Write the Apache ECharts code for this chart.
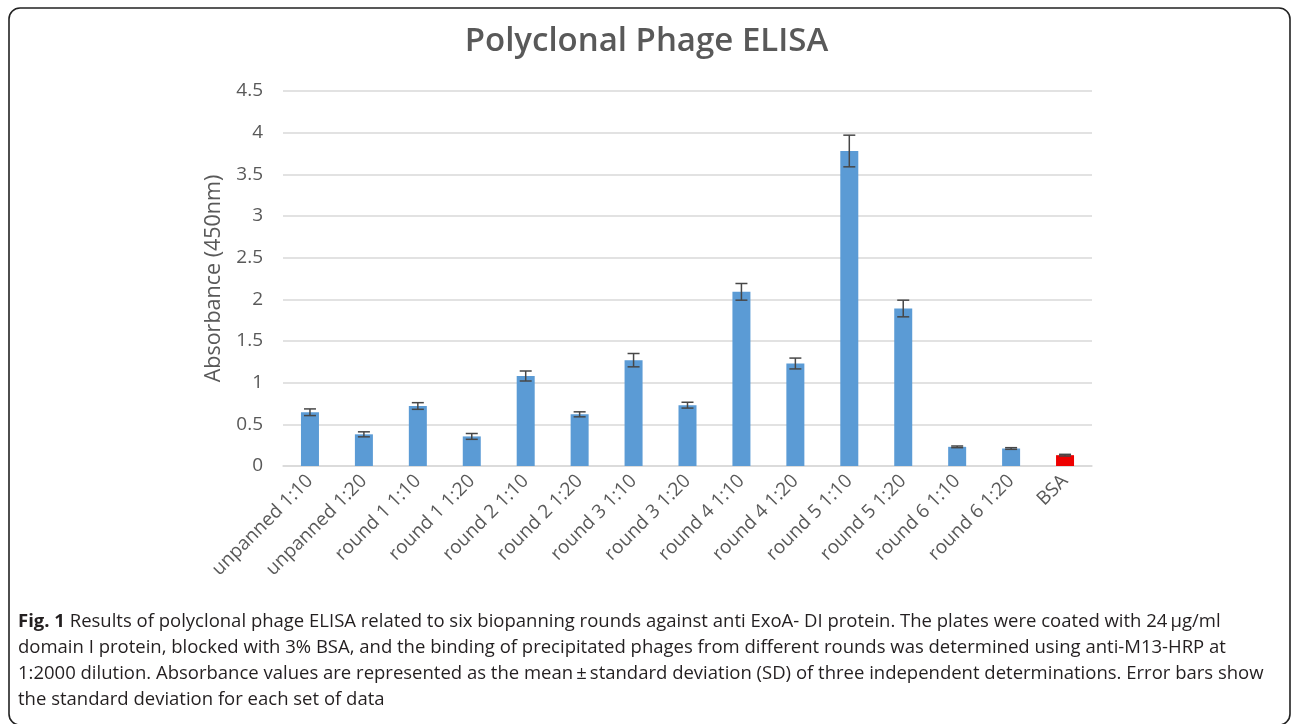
<!DOCTYPE html>
<html>
<head>
<meta charset="utf-8">
<script src="https://cdn.jsdelivr.net/npm/echarts@6/dist/echarts.min.js"></script>
<style>
html,body{margin:0;padding:0;background:#fff;}
#chart{width:1293px;height:724px;}
</style>
</head>
<body>
<div id="chart"></div>
<script>
const categories = ['unpanned 1:10','unpanned 1:20','round 1 1:10','round 1 1:20','round 2 1:10','round 2 1:20','round 3 1:10','round 3 1:20','round 4 1:10','round 4 1:20','round 5 1:10','round 5 1:20','round 6 1:10','round 6 1:20','BSA'];
const absorbance = [0.645, 0.38, 0.72, 0.355, 1.08, 0.62, 1.27, 0.73, 2.09, 1.23, 3.78, 1.89, 0.23, 0.21, 0.13];
const sd = [0.04, 0.03, 0.04, 0.035, 0.06, 0.03, 0.08, 0.035, 0.10, 0.065, 0.19, 0.10, 0.01, 0.01, 0.01];
const yTicks = [0, 0.5, 1, 1.5, 2, 2.5, 3, 3.5, 4, 4.5];
const titleText = 'Polyclonal Phage ELISA';
const yName = 'Absorbance (450nm)';
const captionLines = [
  '{b|Fig. 1} Results of polyclonal phage ELISA related to six biopanning rounds against anti ExoA- DI protein. The plates were coated with 24\u2009\u03bcg/ml',
  'domain I protein, blocked with 3% BSA, and the binding of precipitated phages from different rounds was determined using anti-M13-HRP at',
  '1:2000 dilution. Absorbance values are represented as the mean\u2009\u00b1\u2009standard deviation (SD) of three independent determinations. Error bars show',
  'the standard deviation for each set of data'
];

const chart = echarts.init(document.getElementById('chart'));
const barColor = '#5b9bd5';
const bsaColor = '#ee0000';

const barData = absorbance.map((v, i) => ({
  value: v,
  itemStyle: { color: categories[i] === 'BSA' ? bsaColor : barColor }
}));
const errData = absorbance.map((v, i) => [i, v - sd[i], v + sd[i]]);

const captionGraphics = captionLines.map((t, i) => ({
  type: 'text',
  x: 18,
  y: 622 + i * 26,
  style: {
    text: t,
    font: '18.5px "Open Sans"',
    fill: '#231f20',
    verticalAlign: 'middle',
    rich: { b: { font: 'bold 18.5px "Open Sans"', fill: '#231f20' } }
  }
}));

chart.setOption({
  animation: false,
  backgroundColor: '#fff',
  title: {
    text: titleText,
    left: 'center',
    top: 20,
    textStyle: { fontFamily: 'Open Sans', fontWeight: 600, fontSize: 33, color: '#595959' }
  },
  grid: { left: 283, right: 201, top: 91, bottom: 258 },
  xAxis: {
    type: 'category',
    data: categories,
    axisLine: { lineStyle: { color: '#d9d9d9', width: 1.5 } },
    axisTick: { show: false },
    axisLabel: { rotate: 45, margin: 12, fontFamily: 'Open Sans', fontSize: 19, color: '#595959', interval: 0 }
  },
  yAxis: {
    type: 'value',
    min: 0, max: 4.5, interval: 0.5,
    name: yName,
    nameLocation: 'middle',
    nameGap: 58,
    nameTextStyle: { fontFamily: 'Open Sans', fontSize: 21.5, color: '#595959' },
    axisLine: { show: false },
    axisTick: { show: false },
    splitLine: { lineStyle: { color: '#d9d9d9', width: 1.5 } },
    axisLabel: {
      fontFamily: 'Open Sans', fontSize: 19, color: '#595959', margin: 20,
      formatter: v => yTicks.includes(v) ? String(v) : ''
    }
  },
  series: [
    {
      type: 'bar',
      data: barData,
      barWidth: 18
    },
    {
      type: 'custom',
      data: errData,
      z: 10,
      renderItem: function (params, api) {
        const i = api.value(0);
        const lo = api.coord([i, api.value(1)]);
        const hi = api.coord([i, api.value(2)]);
        const hw = 6;
        const style = { stroke: '#474747', lineWidth: 1.5 };
        return {
          type: 'group',
          children: [
            { type: 'line', shape: { x1: lo[0], y1: lo[1], x2: hi[0], y2: hi[1] }, style },
            { type: 'line', shape: { x1: lo[0] - hw, y1: lo[1], x2: lo[0] + hw, y2: lo[1] }, style },
            { type: 'line', shape: { x1: hi[0] - hw, y1: hi[1], x2: hi[0] + hw, y2: hi[1] }, style }
          ]
        };
      }
    }
  ],
  graphic: [
    {
      type: 'rect',
      shape: { x: 9, y: 8, width: 1281, height: 717, r: 11 },
      style: { fill: 'none', stroke: '#222', lineWidth: 1.6 },
      silent: true
    }
  ].concat(captionGraphics)
});
</script>
</body>
</html>
